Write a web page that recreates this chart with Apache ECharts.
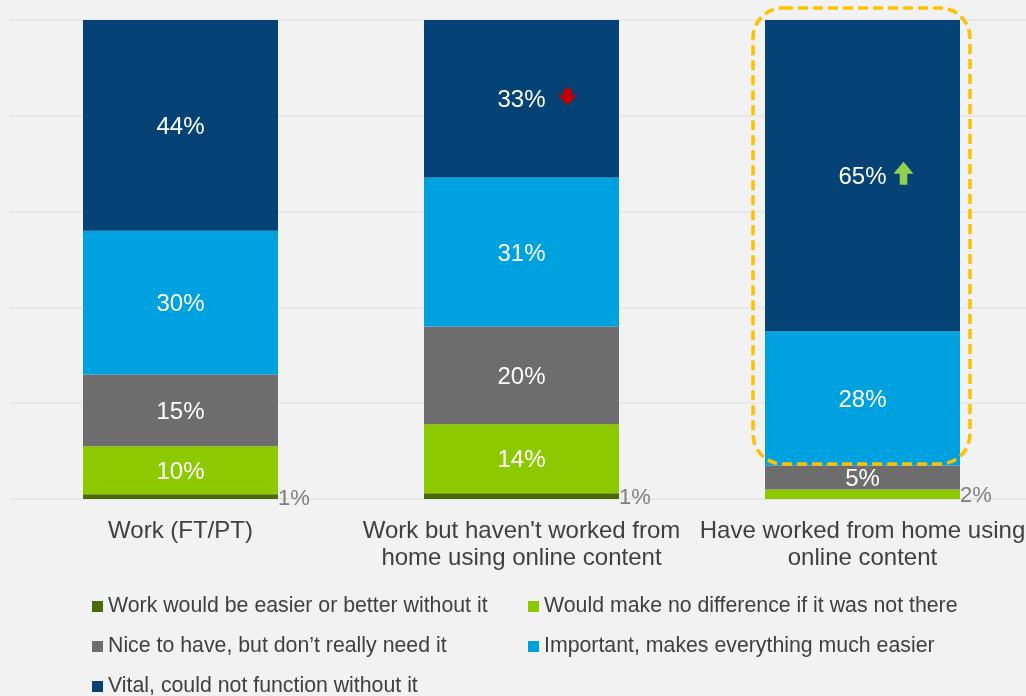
<!DOCTYPE html>
<html>
<head>
<meta charset="utf-8">
<script src="https://cdn.jsdelivr.net/npm/echarts@6/dist/echarts.min.js"></script>
<style>
  html, body { margin: 0; padding: 0; background: #f2f2f2; }
  #chart { width: 1026px; height: 696px; }
</style>
</head>
<body>
<div id="chart"></div>
<script>
// categories (bottom to top stacking)
const categories = [
  'Work (FT/PT)',
  "Work but haven't worked from\nhome using online content",
  'Have worked from home using\nonline content'
]
const seriesNames = [
  'Work would be easier or better without it',
  'Would make no difference if it was not there',
  'Nice to have, but don\u2019t really need it',
  'Important, makes everything much easier',
  'Vital, could not function without it'
]
const worseWithout = [1, 1.2, 0]
const noDifference = [10, 14.4, 2]
const niceToHave = [15, 20.4, 5]
const important = [30, 31.1, 28]
const vital = [44, 32.9, 65]
// trend marker shown next to the "vital" value
const trend = ['', 'down', 'up']

const colors = ['#4b6a0a', '#8cc900', '#6d6d6d', '#00a1df', '#054275']
const FONT = '"Liberation Sans", Arial, sans-serif'

const svgUrl = (svg) => 'data:image/svg+xml;charset=utf-8,' + encodeURIComponent(svg)
// arrows drawn in the upper part of the image so they sit a bit above the text middle
const downArrow = svgUrl('<svg xmlns="http://www.w3.org/2000/svg" width="20" height="25" viewBox="0 0 20 25"><polygon points="5.8,0 14.2,0 14.2,6.5 20,6.5 10,17 0,6.5 5.8,6.5" fill="#c00000"/></svg>')
const upArrow = svgUrl('<svg xmlns="http://www.w3.org/2000/svg" width="20" height="32" viewBox="0 0 20 32"><polygon points="10,0 20,12 13.8,12 13.8,23 6.2,23 6.2,12 0,12" fill="#92d050"/></svg>')

const pct = (p) => p.value ? Math.round(p.value) + '%' : ''
const outsideLabel = {position: 'right', distance: 0, color: '#7f7f7f', fontSize: 22, offset: [0, 2]}

var chartDom = document.getElementById('chart')
var myChart = echarts.init(chartDom)

const baseLabel = {
  show: true,
  color: '#fff',
  fontSize: 24,
  fontFamily: FONT,
  offset: [0, 2],
  formatter: pct
}

const mkSeries = (name, values, idx, extra) => Object.assign({
  name: name,
  type: 'bar',
  stack: 'total',
  barWidth: 195,
  itemStyle: {color: colors[idx]},
  label: baseLabel,
  data: values
}, extra || {})

const series = [
  mkSeries(seriesNames[0], worseWithout, 0, {
    label: Object.assign({}, baseLabel, outsideLabel)
  }),
  mkSeries(seriesNames[1], noDifference.map((v, i) =>
    // last bar is too thin for an inside label
    i === 2 ? {value: v, label: outsideLabel} : v
  ), 1),
  mkSeries(seriesNames[2], niceToHave, 2),
  mkSeries(seriesNames[3], important, 3),
  mkSeries(seriesNames[4], vital, 4, {
    label: Object.assign({}, baseLabel, {
      formatter: (p) => {
        const t = trend[p.dataIndex]
        const txt = Math.round(p.value) + '%'
        if (t === 'down') return '{sd|}{v|' + txt + '}{gd|}{dn|}'
        if (t === 'up') return '{su|}{v|' + txt + '}{gu|}{up|}'
        return '{v|' + txt + '}'
      },
      rich: {
        v: {color: '#fff', fontSize: 24, fontFamily: FONT},
        sd: {width: 32},
        gd: {width: 12},
        dn: {width: 20, height: 25, backgroundColor: {image: downArrow}},
        su: {width: 27},
        gu: {width: 7},
        up: {width: 20, height: 32, backgroundColor: {image: upArrow}}
      }
    })
  })
]

const legendRow = (name, left, top) => ({
  data: [name],
  left: left,
  top: top,
  padding: 0,
  icon: 'rect',
  itemWidth: 11,
  itemHeight: 11,
  selectedMode: false,
  textStyle: {color: '#404040', fontSize: 21.3, fontFamily: FONT}
})

var option = {
  backgroundColor: '#f2f2f2',
  animation: false,
  grid: {
    left: 10,
    top: 20,
    width: 1023,
    height: 479,
    outerBoundsMode: 'none'
  },
  xAxis: {
    type: 'category',
    data: categories,
    axisLine: {show: false},
    axisTick: {show: false},
    axisLabel: {
      color: '#404040',
      fontSize: 24,
      fontFamily: FONT,
      lineHeight: 27,
      margin: 19,
      interval: 0
    }
  },
  yAxis: {
    type: 'value',
    min: 0,
    max: 100,
    interval: 20,
    axisLabel: {show: false},
    axisLine: {show: false},
    axisTick: {show: false},
    splitLine: {lineStyle: {color: '#e4e4e4', width: 1.5}}
  },
  legend: [
    legendRow(seriesNames[0], 92, 596),
    legendRow(seriesNames[1], 528, 596),
    legendRow(seriesNames[2], 92, 636),
    legendRow(seriesNames[3], 528, 636),
    legendRow(seriesNames[4], 92, 676)
  ],
  // highlight box around the third bar
  graphic: [{
    type: 'rect',
    z: 100,
    shape: {x: 753, y: 8, width: 217, height: 456, r: 30},
    style: {fill: 'none', stroke: '#ffc000', lineWidth: 3.5, lineDash: [10, 5]}
  }],
  series: series
}

option && myChart.setOption(option)
</script>
</body>
</html>
